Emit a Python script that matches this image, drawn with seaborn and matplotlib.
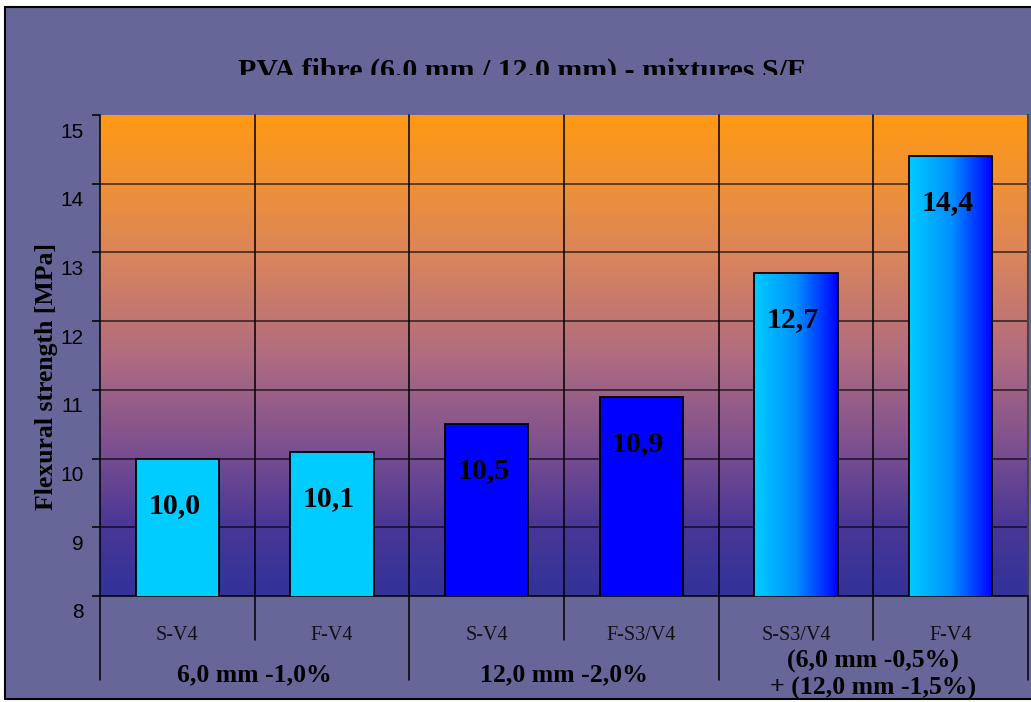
import numpy as np
import pandas as pd
import matplotlib
matplotlib.use("Agg")
import matplotlib.pyplot as plt
import seaborn as sns
from matplotlib.colors import LinearSegmentedColormap
from matplotlib.patches import Rectangle
from matplotlib.lines import Line2D
from matplotlib.transforms import ScaledTranslation, Bbox, blended_transform_factory

# ---- data -------------------------------------------------------------
title = "PVA fibre (6.0 mm / 12.0 mm) - mixtures S/F"
y_label = "Flexural strength [MPa]"
mixes = ["S-V4", "F-V4", "S-V4", "F-S3/V4", "S-S3/V4", "F-V4"]
groups = ["6,0 mm -1,0%", "12,0 mm -2,0%", "(6,0 mm -0,5%)\n+ (12,0 mm -1,5%)"]
group_of_mix = [0, 0, 1, 1, 2, 2]
strength = [10.0, 10.1, 10.5, 10.9, 12.7, 14.4]
y_ticks = [8, 9, 10, 11, 12, 13, 14, 15]

# ---- styling ----------------------------------------------------------
W, H = 1031, 702
SLATE = "#666699"
CYAN = "#00CCFF"
BLUE = "#0000FF"
group_fill = ["solid_cyan", "solid_blue", "gradient"]
bg_cmap = LinearSegmentedColormap.from_list(
    "plot_bg",
    [(0.0, "#323299"), (0.15, "#4a3796"), (0.3, "#7a4f90"),
     (0.5, "#b06c80"), (0.7, "#d8845e"), (0.85, "#ee9038"), (1.0, "#ff9a14")])
bar_cmap = LinearSegmentedColormap.from_list("bar_grad", [CYAN, "#0090FF", BLUE])

sns.set_theme(style="white")
plt.rcParams["font.family"] = ["Liberation Serif", "DejaVu Serif"]

fig = plt.figure(figsize=(W / 100, H / 100), dpi=100)
fig.patch.set_facecolor("white")
fig.add_artist(Rectangle((5 / W, 3 / H), 1.2, (H - 10) / H, transform=fig.transFigure,
                         facecolor=SLATE, edgecolor="black", linewidth=1.5, zorder=0))

ax = fig.add_axes([100 / W, (H - 596) / H, 928 / W, 481 / H])
ax.set_facecolor("none")

df = pd.DataFrame({
    "key": [f"{groups[g]}|{m}|{i}" for i, (g, m) in enumerate(zip(group_of_mix, mixes))],
    "strength": strength,
})
fill_of_bar = [group_fill[g] for g in group_of_mix]
palette = [BLUE if f == "solid_blue" else CYAN for f in fill_of_bar]

sns.barplot(data=df, x="key", y="strength", hue="key", palette=palette, legend=False,
            width=0.54, saturation=1, edgecolor="black", linewidth=1.3, ax=ax, zorder=3)

ax.set_xlim(-0.5, 5.5)
ax.set_ylim(8, 15)

# plot-area background gradient
ax.imshow(np.linspace(0, 1, 256)[:, None], cmap=bg_cmap, origin="lower",
          extent=(-0.5, 5.5, 8, 15), aspect="auto", zorder=0)

# horizontal gridlines
for t in y_ticks[1:-1]:
    ax.axhline(t, color="black", linewidth=1.1, alpha=0.75, zorder=1)

# bars with a horizontal cyan-to-blue fill
bars = sorted(ax.patches, key=lambda p: p.get_x())
for bar, fill in zip(bars, fill_of_bar):
    if fill == "gradient":
        x0, w = bar.get_x(), bar.get_width()
        top = bar.get_y() + bar.get_height()
        im = ax.imshow(np.linspace(0, 1, 256)[None, :], cmap=bar_cmap,
                       extent=(x0, x0 + w, 8, top), aspect="auto", zorder=3.5)
        im.set_clip_path(bar)
        im.set_clip_box(ax.bbox)
        bar.set_facecolor("none")
        bar.set_zorder(4)

ax.set_xlim(-0.5, 5.5)
ax.set_ylim(8, 15)

# value labels inside the bars
for i, v in enumerate(strength):
    ax.text(i - 0.02, v - 0.68, f"{v:.1f}".replace(".", ","), ha="center", va="center",
            fontsize=21.5, fontweight="bold", color="black", zorder=6)

# axes frame
ax.spines["top"].set_visible(False)
ax.spines["left"].set_color("black")
ax.spines["left"].set_linewidth(1.1)
ax.spines["bottom"].set_color("black")
ax.spines["bottom"].set_linewidth(1.1)
ax.spines["right"].set_color("#444444")
ax.spines["right"].set_linewidth(1.5)

# y axis
ax.set_yticks(y_ticks)
ax.set_yticklabels([str(t) for t in y_ticks], fontfamily="Liberation Sans",
                   fontsize=15, color="black")
ax.tick_params(axis="y", left=True, direction="out", length=6, width=1.1,
               color="black", pad=6)
shift = ScaledTranslation(0, -15 / 100, fig.dpi_scale_trans)
for lab in ax.get_yticklabels():
    lab.set_transform(lab.get_transform() + shift)
ax.set_ylabel("")

# multi-level category axis
ax.set_xticks([])
ax.set_xlabel("")
trans = blended_transform_factory(ax.transData, ax.transAxes)
px = 1 / 481
for b in np.arange(-0.5, 6.0, 1.0):
    is_group_edge = int(b + 0.5) % 2 == 0
    low = -(680 - 596) * px if is_group_edge else -(640 - 596) * px
    top = 1.0 if -0.5 < b < 5.5 else 0.0
    ax.add_line(Line2D([b, b], [low, top], transform=trans, color="black",
                       linewidth=1.1, clip_on=False, zorder=2))
for i, m in enumerate(mixes):
    ax.text(i, -(636 - 596) * px, m, transform=trans, ha="center", va="center",
            fontsize=14.5, color="#111111", clip_on=False)
for g, name in enumerate(groups):
    ax.text(2 * g + 0.5, -(674.5 - 596) * px, name, transform=trans, ha="center",
            va="center", fontsize=18.5, fontweight="bold", color="black",
            linespacing=1.2, multialignment="center", clip_on=False)

# title (its lower edge runs under the header strip)
t = fig.text(522 / W, (H - 79) / H, title, ha="center", va="baseline",
             fontsize=21.5, fontweight="bold", color="black")
t.set_clip_box(Bbox.from_extents(0, H - 75, W, H))
t.set_clip_on(True)

fig.text(47 / W, (H - 376) / H, y_label, rotation=90, ha="center", va="center",
         fontsize=18.5, fontweight="bold", color="black")

fig.savefig("out.png", dpi=100, facecolor=fig.get_facecolor())
